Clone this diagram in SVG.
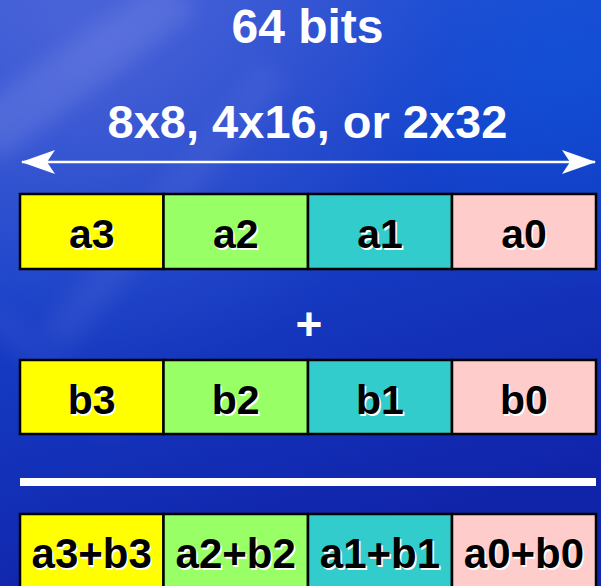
<svg xmlns="http://www.w3.org/2000/svg" width="601" height="586" viewBox="0 0 601 586">
  <defs>
    <linearGradient id="bg" x1="0" y1="0" x2="0.3" y2="1">
      <stop offset="0" stop-color="#2f55d6"/>
      <stop offset="0.45" stop-color="#1640c8"/>
      <stop offset="1" stop-color="#1024aa"/>
    </linearGradient>
    <radialGradient id="glow" cx="0.15" cy="0.05" r="0.6">
      <stop offset="0" stop-color="#7078dc" stop-opacity="0.45"/>
      <stop offset="1" stop-color="#7078dc" stop-opacity="0"/>
    </radialGradient>
    <radialGradient id="glowR" cx="0.95" cy="0.1" r="0.4">
      <stop offset="0" stop-color="#0a5ae0" stop-opacity="0.5"/>
      <stop offset="1" stop-color="#0a5ae0" stop-opacity="0"/>
    </radialGradient>
    <filter id="soft" x="-20%" y="-20%" width="140%" height="140%">
      <feGaussianBlur stdDeviation="10"/>
    </filter>
    <marker id="head" viewBox="0 0 34 24" refX="33" refY="12" markerWidth="34" markerHeight="24" markerUnits="userSpaceOnUse" orient="auto-start-reverse">
      <path d="M0,0 L34,12 L0,24 L8,12 Z" fill="#ffffff"/>
    </marker>
    <style>
      .title { font-family: "Liberation Sans", Arial, sans-serif; font-weight: bold; fill: #ffffff; text-anchor: middle; }
      .cell { stroke: #000000; stroke-width: 2.5; }
      .lbl { font-family: "Liberation Sans", Arial, sans-serif; font-weight: bold; font-size: 41px; text-anchor: middle; fill: #000000; }
      .lbl3 { font-size: 42px; }
      .shadow { fill: #ffffff; }
      .c3 { fill: #ffff00; }
      .c2 { fill: #99ff66; }
      .c1 { fill: #33cccc; }
      .c0 { fill: #ffcccc; }
    </style>
  </defs>

  <!-- background -->
  <rect width="601" height="586" fill="url(#bg)"/>
  <rect width="601" height="586" fill="url(#glow)"/>
  <rect width="601" height="586" fill="url(#glowR)"/>
  <g filter="url(#soft)" opacity="0.3">
    <path d="M-40,120 L160,-20 L200,10 L0,160 Z" fill="#8090e8"/>
    <path d="M40,330 L260,60 L290,80 L70,350 Z" fill="#6a7ae0" opacity="0.6"/>
    <path d="M0,300 L130,420 L110,440 L-20,320 Z" fill="#5060d8" opacity="0.6"/>
  </g>

  <!-- headings -->
  <text class="title" x="307.5" y="43" font-size="48">64 bits</text>
  <text class="title" x="307.5" y="138" font-size="47">8x8, 4x16, or 2x32</text>

  <!-- connectors: width arrow, plus sign, result rule -->
  <g id="connectors">
    <line x1="22" y1="162" x2="595" y2="162" stroke="#ffffff" stroke-width="2.5" marker-start="url(#head)" marker-end="url(#head)"/>
    <text class="title" x="309" y="340" font-size="46">+</text>
    <rect x="20" y="478" width="576" height="8" fill="#ffffff"/>
  </g>

  <!-- operand a -->
  <g id="row-a">
    <rect class="cell c3" x="20" y="194" width="143.5" height="75"/>
    <rect class="cell c2" x="163.5" y="194" width="144.5" height="75"/>
    <rect class="cell c1" x="308" y="194" width="144" height="75"/>
    <rect class="cell c0" x="452" y="194" width="144" height="75"/>
    <g class="lbl">
      <text class="shadow" x="93.2" y="249.5">a3</text><text x="91.7" y="248">a3</text>
      <text class="shadow" x="237.2" y="249.5">a2</text><text x="235.7" y="248">a2</text>
      <text class="shadow" x="381.5" y="249.5">a1</text><text x="380" y="248">a1</text>
      <text class="shadow" x="525.5" y="249.5">a0</text><text x="524" y="248">a0</text>
    </g>
  </g>

  <!-- operand b -->
  <g id="row-b">
    <rect class="cell c3" x="20" y="360" width="143.5" height="74"/>
    <rect class="cell c2" x="163.5" y="360" width="144.5" height="74"/>
    <rect class="cell c1" x="308" y="360" width="144" height="74"/>
    <rect class="cell c0" x="452" y="360" width="144" height="74"/>
    <g class="lbl">
      <text class="shadow" x="93.2" y="415.5">b3</text><text x="91.7" y="414">b3</text>
      <text class="shadow" x="237.2" y="415.5">b2</text><text x="235.7" y="414">b2</text>
      <text class="shadow" x="381.5" y="415.5">b1</text><text x="380" y="414">b1</text>
      <text class="shadow" x="525.5" y="415.5">b0</text><text x="524" y="414">b0</text>
    </g>
  </g>

  <!-- sum -->
  <g id="row-sum">
    <rect class="cell c3" x="20" y="514" width="143.5" height="80"/>
    <rect class="cell c2" x="163.5" y="514" width="144.5" height="80"/>
    <rect class="cell c1" x="308" y="514" width="144" height="80"/>
    <rect class="cell c0" x="452" y="514" width="144" height="80"/>
    <g class="lbl lbl3">
      <text class="shadow" x="93.2" y="569.5">a3+b3</text><text x="91.7" y="568">a3+b3</text>
      <text class="shadow" x="237.2" y="569.5">a2+b2</text><text x="235.7" y="568">a2+b2</text>
      <text class="shadow" x="381.5" y="569.5">a1+b1</text><text x="380" y="568">a1+b1</text>
      <text class="shadow" x="525.5" y="569.5">a0+b0</text><text x="524" y="568">a0+b0</text>
    </g>
  </g>
</svg>
